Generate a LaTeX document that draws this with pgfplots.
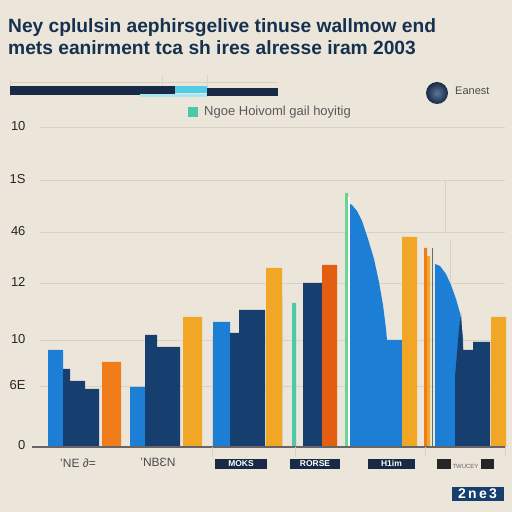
\documentclass[border=0pt]{standalone}
\usepackage{pgfplots}
\pgfplotsset{compat=1.18}
\usepackage{fontspec}
\setmainfont{Liberation Sans}
\definecolor{bg}{RGB}{236,230,218}
\definecolor{lblue}{RGB}{28,126,212}
\definecolor{navy}{RGB}{22,62,110}
\definecolor{dnavy}{RGB}{24,42,70}
\definecolor{orng}{RGB}{240,125,26}
\definecolor{yorng}{RGB}{242,166,38}
\definecolor{rorng}{RGB}{228,94,18}
\definecolor{teal}{RGB}{76,200,170}
\definecolor{grn}{RGB}{110,210,150}
\definecolor{gridc}{RGB}{216,210,198}
\definecolor{titlec}{RGB}{22,48,80}
\definecolor{cyanl}{RGB}{80,205,230}
\newcommand{\mybar}[4]{\addplot[fill=#1,draw=none] coordinates {(#2,0) (#2,#4) (#3,#4) (#3,0)} \closedcycle;}
\newcommand{\badge}[2]{{\setlength{\fboxsep}{0pt}\colorbox{dnavy}{\makebox[#1]{\rule[-2pt]{0pt}{10pt}\textcolor{white}{\bfseries\fontsize{8.5}{8.5}\selectfont #2}}}}}
\begin{document}
\begin{tikzpicture}[x=1pt,y=1pt]
\fill[bg] (0,0) rectangle (512,512);
% title
\node[anchor=base west, inner sep=0, text=titlec, font=\fontsize{19.2}{19}\selectfont\bfseries] at (8,512-33) {Ney cplulsin aephirsgelive tinuse wallmow end};
\node[anchor=base west, inner sep=0, text=titlec, font=\fontsize{19.2}{19}\selectfont\bfseries] at (8,512-55) {mets eanirment tca sh ires alresse iram 2003};
% top legend bar
\draw[gridc, line width=1pt] (10,512-83) -- (278,512-83);
\draw[gridc, line width=1pt] (10,512-80) -- (10,512-96) (162,512-75) -- (162,512-88) (207,512-75) -- (207,512-88);
\fill[dnavy] (10,512-95) rectangle (175,512-86);
\fill[cyanl] (175,512-93) rectangle (207,512-86);
\fill[dnavy] (207,512-96) rectangle (278,512-88);
\fill[cyanl!50!white] (140,512-97) rectangle (207,512-94);
\shade[inner color=navy!70!white, outer color=dnavy] (437,512-93) circle (11);
\node[anchor=west, inner sep=0, text=black!70, font=\fontsize{11}{11}\selectfont] at (455,512-91) {Eanest};
\fill[teal] (188,512-117) rectangle (198,512-107);
\node[anchor=west, inner sep=0, text=black!65, font=\fontsize{13}{13}\selectfont] at (204,512-112) {Ngoe Hoivoml gail hoyitig};
% bottom right box
\node[anchor=center, fill=navy, text=white, inner sep=0pt, minimum width=52pt, minimum height=14pt, font=\fontsize{14}{14}\selectfont\bfseries] at (477.5,512-494) {2\,n\,e\,3};
\begin{axis}[
  at={(40,65)}, anchor=south west, scale only axis,
  width=465pt, height=320pt,
  xmin=40, xmax=505, ymin=0, ymax=320,
  clip=false,
  axis line style={draw=none},
  major tick style={draw=none},
  ymajorgrids, grid style={gridc, line width=1pt},
  ytick={0,60,106,163,214,266,319},
  yticklabels={0,6E,10,12,46,1S,10},
  yticklabel style={font=\fontsize{13}{13}\selectfont, text=black!85, xshift=-11pt, yshift=2pt},
  xtick={78,158,241,315,391.5,465},
  xticklabels={{'NE ∂=},{'NBƐN},\badge{52pt}{MOKS},\badge{50pt}{RORSE},\badge{47pt}{H1im},{\textcolor{black!85}{\rule{14pt}{10pt}}\,{\fontsize{6}{6}\selectfont\textcolor{black!60}{TWUCEY}}\,\textcolor{black!85}{\rule{13pt}{10pt}}}},
  xticklabel style={font=\fontsize{12}{12}\selectfont, text=black!70, yshift=-8pt},
  /pgf/number format/assume math mode=true,
]
% vertical light lines
\addplot[gridc, line width=1pt] coordinates {(212,0) (212,112)};
\addplot[gridc, line width=1pt] coordinates {(445,214) (445,266)};
\addplot[gridc, line width=1pt] coordinates {(450,150) (450,207)};
\addplot[gridc, line width=1pt] coordinates {(462,0) (462,100)};
\addplot[gridc, line width=1pt] coordinates {(282,0) (282,150)};
% group 1
\mybar{lblue}{48}{63}{97}
\mybar{navy}{63}{70}{78}
\mybar{navy}{70}{85}{66}
\mybar{navy}{85}{99}{58}
\mybar{orng}{102}{121}{85}
% group 2
\mybar{lblue}{130}{145}{60}
\mybar{navy}{145}{157}{112}
\mybar{navy}{157}{180}{100}
\mybar{yorng}{183}{202}{130}
% group 3
\mybar{lblue}{213}{230}{125}
\mybar{navy}{230}{239}{114}
\mybar{navy}{239}{265}{137}
\mybar{yorng}{266}{282}{179}
% group 4
\mybar{teal}{292}{296}{144}
\mybar{navy}{303}{322}{164}
\mybar{rorng}{322}{337}{182}
% group 5
\mybar{grn}{345}{348}{254}
\mybar{white!80!bg}{348}{350}{250}
\addplot[fill=lblue,draw=none] coordinates {(350,0) (350,243) (352,242) (357,236) (362,226) (368,208) (374,188) (379,165) (383,142) (386,118) (387,107) (402,107) (402,0)} \closedcycle;
\mybar{yorng}{402}{417}{210}
% group 6
\mybar{orng}{424}{427}{199}
\mybar{yorng}{427}{430}{191}
\addplot[gray!70!navy, line width=0.8pt] coordinates {(432,0) (432,199)};
\addplot[fill=lblue,draw=none] coordinates {(435,0) (435,183) (440,181) (446,173) (451,162) (456,148) (460,134) (463,110) (464,0)} \closedcycle;
\addplot[fill=navy,draw=none] coordinates {(455,0) (455,70) (459,118) (461,134) (463,100) (463,0)} \closedcycle;
\mybar{navy}{463}{473}{97}
\mybar{navy}{473}{490}{105}
\mybar{yorng}{491}{506}{130}
% baseline and ticks
\addplot[black!60, line width=1.2pt] coordinates {(32,0) (505,0)};
\addplot[gridc, line width=1pt] coordinates {(212,0) (212,-10)};
\addplot[gridc, line width=1pt] coordinates {(295,0) (295,-10)};
\addplot[gridc, line width=1pt] coordinates {(425,0) (425,-10)};
\addplot[gridc, line width=1pt] coordinates {(505,0) (505,-10)};
\end{axis}
\end{tikzpicture}
\end{document}
